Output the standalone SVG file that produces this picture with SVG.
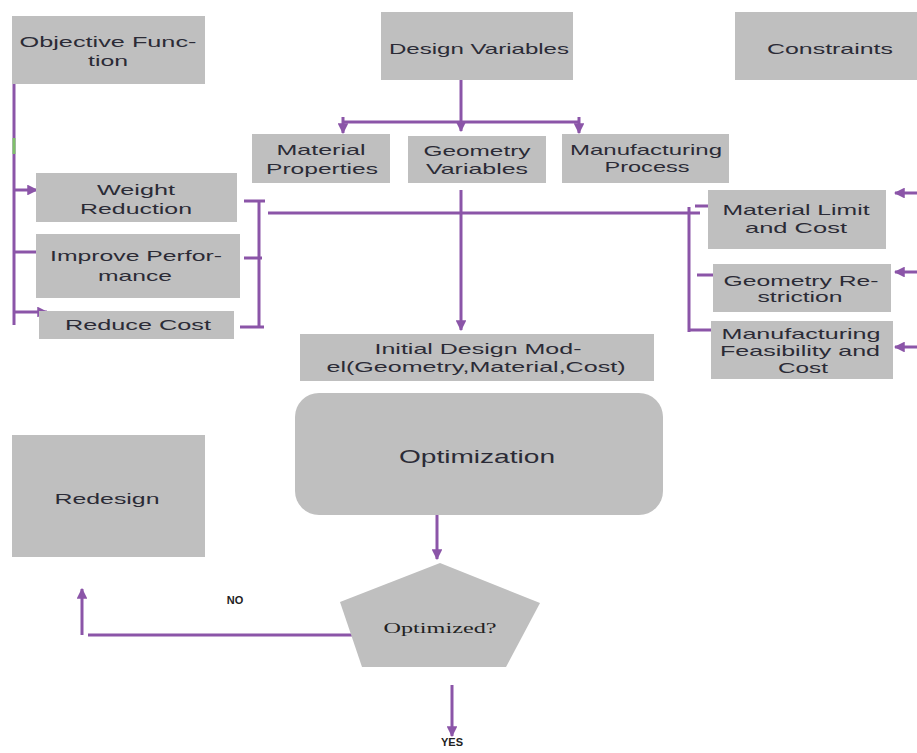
<svg xmlns="http://www.w3.org/2000/svg" width="917" height="753" viewBox="0 0 917 753">
<defs>
<marker id="ah" viewBox="0 0 10 10" refX="9" refY="5" markerWidth="3.6" markerHeight="3.6" orient="auto" markerUnits="strokeWidth">
<path d="M0,0 L10,5 L0,10 z" fill="#8b55a8"/>
</marker>
</defs>
<style>
.box{fill:#bfbfbf;}
.t{font-family:"Liberation Sans",Arial,sans-serif;font-size:15px;fill:#2b2b36;text-anchor:middle;}
.c{stroke:#8b55a8;stroke-width:3;fill:none;}
.a{marker-end:url(#ah);}
</style>
<rect width="917" height="753" fill="#ffffff"/>

<g id="connectors">
<path class="c a" d="M461,80 V131"/>
<path class="c" d="M343,122 H579"/>
<path class="c a" d="M343,117 V133"/>
<path class="c a" d="M579,117 V133"/>
<path class="c a" d="M461,190 V330"/>
<path class="c" d="M14,84 V325"/>
<rect x="12.5" y="138" width="3" height="16" fill="#7fc06a"/>
<path class="c a" d="M14,190 H37"/>
<path class="c a" d="M14,252 H47"/>
<path class="c a" d="M14,312 H47"/>
<path class="c" d="M259,201 V328 M244,201 H265 M244,258 H262 M240,327 H264"/>
<path class="c" d="M268,213 H700"/>
<path class="c" d="M689,207 V332 M695,206 H708 M697,275 H717 M689,330 H718"/>
<path class="c a" d="M917,193 H895"/>
<path class="c a" d="M917,272 H895"/>
<path class="c a" d="M917,347 H895"/>
<path class="c a" d="M437,515 V559"/>
<path class="c" d="M88,635 H358"/>
<path class="c a" d="M82,635 V589"/>
<path class="c a" d="M452,685 V736"/>
</g>

<g id="objective">
<rect class="box" x="12" y="16" width="193" height="68"/>
<text class="t" x="108" y="47" textLength="177" lengthAdjust="spacingAndGlyphs">Objective Func-</text>
<text class="t" x="108" y="66" textLength="40" lengthAdjust="spacingAndGlyphs">tion</text>
</g>
<g id="designvars">
<rect class="box" x="381" y="12" width="192" height="68"/>
<text class="t" x="479" y="54" textLength="180" lengthAdjust="spacingAndGlyphs">Design Variables</text>
</g>
<g id="constraints">
<rect class="box" x="735" y="12" width="182" height="68"/>
<text class="t" x="830" y="54" textLength="126" lengthAdjust="spacingAndGlyphs">Constraints</text>
</g>
<g id="matprops">
<rect class="box" x="252" y="134" width="138" height="49"/>
<text class="t" x="321" y="155" textLength="89" lengthAdjust="spacingAndGlyphs">Material</text>
<text class="t" x="322" y="174" textLength="112" lengthAdjust="spacingAndGlyphs">Properties</text>
</g>
<g id="geomvars">
<rect class="box" x="408" y="136" width="138" height="47"/>
<text class="t" x="477" y="156" textLength="107" lengthAdjust="spacingAndGlyphs">Geometry</text>
<text class="t" x="477" y="174" textLength="102" lengthAdjust="spacingAndGlyphs">Variables</text>
</g>
<g id="mfgprocess">
<rect class="box" x="562" y="134" width="167" height="49"/>
<text class="t" x="646" y="155" textLength="152" lengthAdjust="spacingAndGlyphs">Manufacturing</text>
<text class="t" x="647" y="172" textLength="85" lengthAdjust="spacingAndGlyphs">Process</text>
</g>
<g id="weight">
<rect class="box" x="36" y="173" width="201" height="49"/>
<text class="t" x="136" y="195" textLength="78" lengthAdjust="spacingAndGlyphs">Weight</text>
<text class="t" x="136" y="214" textLength="112" lengthAdjust="spacingAndGlyphs">Reduction</text>
</g>
<g id="performance">
<rect class="box" x="36" y="234" width="204" height="64"/>
<text class="t" x="136" y="261" textLength="172" lengthAdjust="spacingAndGlyphs">Improve Perfor-</text>
<text class="t" x="135" y="281" textLength="74" lengthAdjust="spacingAndGlyphs">mance</text>
</g>
<g id="cost">
<rect class="box" x="39" y="311" width="195" height="28"/>
<text class="t" x="138" y="330" textLength="146" lengthAdjust="spacingAndGlyphs">Reduce Cost</text>
</g>
<g id="matlimit">
<rect class="box" x="708" y="190" width="178" height="59"/>
<text class="t" x="796" y="215" textLength="147" lengthAdjust="spacingAndGlyphs">Material Limit</text>
<text class="t" x="796" y="233" textLength="102" lengthAdjust="spacingAndGlyphs">and Cost</text>
</g>
<g id="geomrestrict">
<rect class="box" x="713" y="264" width="178" height="48"/>
<text class="t" x="801" y="286" textLength="155" lengthAdjust="spacingAndGlyphs">Geometry Re-</text>
<text class="t" x="800" y="302" textLength="85" lengthAdjust="spacingAndGlyphs">striction</text>
</g>
<g id="mfgfeas">
<rect class="box" x="711" y="321" width="182" height="58"/>
<text class="t" x="801" y="339" textLength="159" lengthAdjust="spacingAndGlyphs">Manufacturing</text>
<text class="t" x="800" y="356" textLength="160" lengthAdjust="spacingAndGlyphs">Feasibility and</text>
<text class="t" x="803" y="373" textLength="50" lengthAdjust="spacingAndGlyphs">Cost</text>
</g>
<g id="initial">
<rect class="box" x="300" y="334" width="354" height="47"/>
<text class="t" x="478" y="354" textLength="207" lengthAdjust="spacingAndGlyphs">Initial Design Mod-</text>
<text class="t" x="476" y="372" textLength="299" lengthAdjust="spacingAndGlyphs">el(Geometry,Material,Cost)</text>
</g>
<g id="optimization">
<rect class="box" x="295" y="393" width="368" height="122" rx="24" ry="24"/>
<text class="t" x="477" y="463" style="font-size:18px" textLength="156" lengthAdjust="spacingAndGlyphs">Optimization</text>
</g>
<g id="redesign">
<rect class="box" x="12" y="435" width="193" height="122"/>
<text class="t" x="107" y="504" textLength="105" lengthAdjust="spacingAndGlyphs">Redesign</text>
</g>
<g id="optimized">
<polygon class="box" points="440,563 540,603 506,667 362,667 340,602"/>
<text x="440" y="633" style="font-family:'Liberation Serif','Times New Roman',serif;font-size:15px;fill:#222;text-anchor:middle" textLength="113" lengthAdjust="spacingAndGlyphs">Optimized?</text>
</g>
<g id="labels">
<text x="235" y="604" style="font-family:'Liberation Sans',Arial,sans-serif;font-size:11px;font-weight:bold;fill:#222;text-anchor:middle">NO</text>
<text x="452" y="746" style="font-family:'Liberation Sans',Arial,sans-serif;font-size:11px;font-weight:bold;fill:#222;text-anchor:middle">YES</text>
</g>
</svg>
